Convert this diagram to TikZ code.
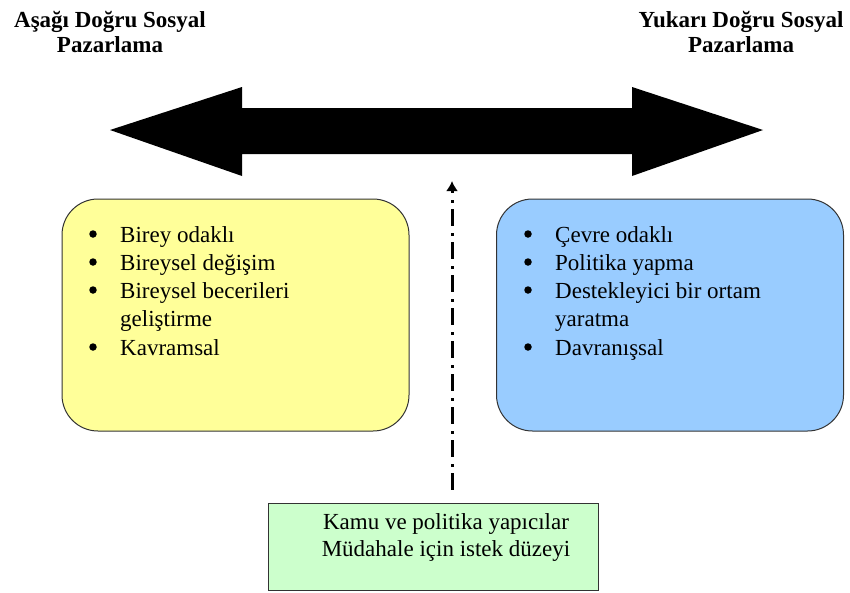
\documentclass[tikz,border=0pt]{standalone}
\usepackage{fontspec}
\setmainfont{Liberation Serif}
\usetikzlibrary{arrows.meta}

\definecolor{boxyellow}{HTML}{FFFF99}
\definecolor{boxblue}{HTML}{99CCFF}
\definecolor{boxgreen}{HTML}{CCFFCC}
\definecolor{edge}{HTML}{333333}

\tikzset{
  txt/.style={inner sep=0pt, anchor=base west, font=\fontsize{23}{27}\selectfont},
  ctr/.style={inner sep=0pt, anchor=base, font=\fontsize{23}{27}\selectfont},
  ttl/.style={inner sep=0pt, anchor=base, font=\fontsize{23}{27}\selectfont\bfseries},
  bul/.style={circle, fill=black, inner sep=0pt, minimum size=7.5pt},
  panel/.style={draw=edge, line width=1pt, rounded corners=36pt, minimum width=347pt, minimum height=232pt},
  greenbox/.style={draw=edge, line width=1pt, fill=boxgreen, minimum width=330pt, minimum height=87pt},
  dashdot arrow/.style={line width=3pt, dash pattern=on 17pt off 6pt on 3pt off 7pt,
    -{Latex[length=10pt,width=12pt]}}
}

\begin{document}
\begin{tikzpicture}[x=1pt,y=-1pt]
\useasboundingbox (0,0) rectangle (850,592);

% titles
\node[ttl] (lt1) at (110,27) {Aşağı Doğru Sosyal};
\node[ttl] (lt2) at (110,52) {Pazarlama};
\node[ttl] (rt1) at (741,27) {Yukarı Doğru Sosyal};
\node[ttl] (rt2) at (741,52) {Pazarlama};

% double-headed block arrow
\fill[black] (110,130) -- (242,87) -- (242,108) -- (632,108) -- (632,87)
  -- (763,130) -- (632,176) -- (632,154) -- (242,154) -- (242,176) -- cycle;

% panels
\node[panel, fill=boxyellow] (left) at (235.5,315) {};
\node[panel, fill=boxblue] (right) at (670,315) {};

% left list
\node[bul] (lb1) at (93,234) {};
\node[txt] (l1) at (120,242) {Birey odaklı};
\node[bul] (lb2) at (93,262) {};
\node[txt] (l2) at (120,270) {Bireysel değişim};
\node[bul] (lb3) at (93,290) {};
\node[txt] (l3) at (120,298) {Bireysel becerileri};
\node[txt] (l3b) at (120,326) {geliştirme};
\node[bul] (lb4) at (93,347) {};
\node[txt] (l4) at (120,355) {Kavramsal};

% right list
\node[bul] (rb1) at (528,234) {};
\node[txt] (r1) at (555,242) {Çevre odaklı};
\node[bul] (rb2) at (528,262) {};
\node[txt] (r2) at (555,270) {Politika yapma};
\node[bul] (rb3) at (528,290) {};
\node[txt] (r3) at (555,298) {Destekleyici bir ortam};
\node[txt] (r3b) at (555,326) {yaratma};
\node[bul] (rb4) at (528,347) {};
\node[txt] (r4) at (555,355) {Davranışsal};

% bottom box
\node[greenbox] (g) at (433,546.5) {};
\node[ctr] (g1) at (446,529) {Kamu ve politika yapıcılar};
\node[ctr] (g2) at (446,556) {Müdahale için istek düzeyi};

% dash-dot pointer
\coordinate (top) at (452,181);
\draw[dashdot arrow, shorten <=13pt] (top |- g.north) -- (top);
\end{tikzpicture}
\end{document}
